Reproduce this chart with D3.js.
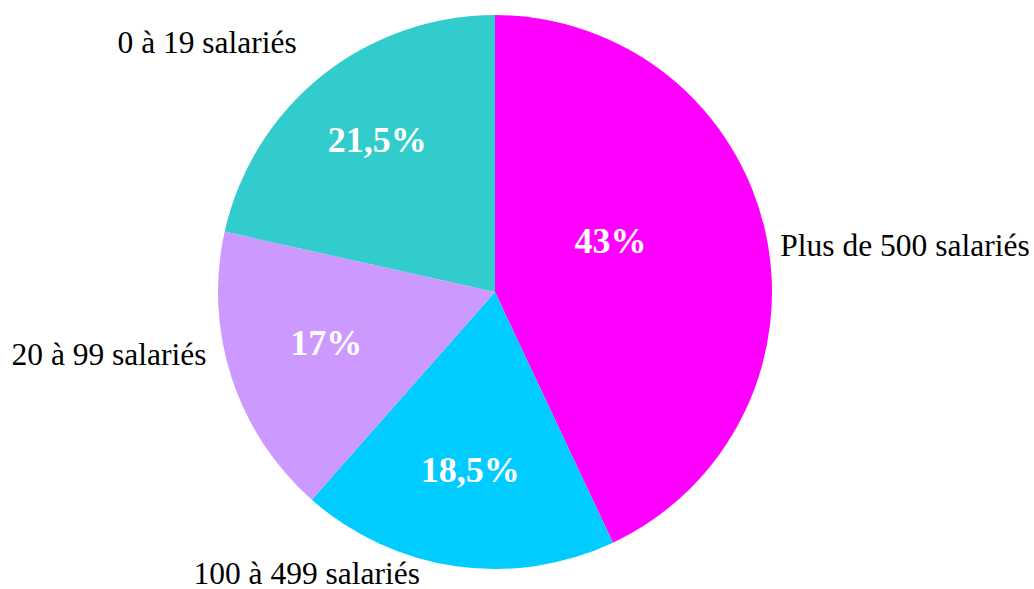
<!DOCTYPE html>
<html>
<head>
<meta charset="utf-8">
<script src="https://cdn.jsdelivr.net/npm/d3@7"></script>
<style>
  body { margin: 0; background: #fff; }
  text { font-family: "Liberation Serif", "Times New Roman", serif; }
</style>
</head>
<body>
<script>
var width = 1034, height = 589;
var cx = 495, cy = 292, radius = 277;

// data
var categories = ["Plus de 500 salariés", "100 à 499 salariés", "20 à 99 salariés", "0 à 19 salariés"];
var shares = [43, 18.5, 17, 21.5];
var shareLabels = ["43%", "18,5%", "17%", "21,5%"];
var colors = ["#ff00ff", "#00ccff", "#cc99ff", "#33cccc"];

// label tweaks (outer name: offset from edge point, anchor; inner: centroid radius + nudge)
var outerNudge = [[15, 24, "start"], [-36, 18, "end"], [-25, -13, "end"], [-25, -23, "end"]];
var innerNudge = [[-70, -10], [2, -10], [12, -8], [1, -4]];

var svg = d3.select("body")
            .append("svg")
            .attr("width", width)
            .attr("height", height)

var pie = d3.pie().sort(null).value(function(d){ return d; });
var arcs = pie(shares);

var arc = d3.arc().innerRadius(0).outerRadius(radius);
var labelArc = d3.arc().innerRadius(190).outerRadius(190);
var edgeArc = d3.arc().innerRadius(radius).outerRadius(radius);

var g = svg.append("g").attr("transform", "translate(" + cx + "," + cy + ")");

g.selectAll("path")
  .data(arcs)
  .enter().append("path")
  .attr("d", arc)
  .attr("fill", function(d, i){ return colors[i]; });

g.selectAll("text.pct")
  .data(arcs)
  .enter().append("text")
  .attr("class", "pct")
  .attr("x", function(d, i){ return labelArc.centroid(d)[0] + innerNudge[i][0]; })
  .attr("y", function(d, i){ return labelArc.centroid(d)[1] + innerNudge[i][1]; })
  .attr("dy", "0.34em")
  .attr("text-anchor", "middle")
  .attr("fill", "#fff")
  .attr("font-weight", "bold")
  .attr("font-size", "36px")
  .text(function(d, i){ return shareLabels[i]; });

g.selectAll("text.cat")
  .data(arcs)
  .enter().append("text")
  .attr("class", "cat")
  .attr("x", function(d, i){ return edgeArc.centroid(d)[0] + outerNudge[i][0]; })
  .attr("y", function(d, i){ return edgeArc.centroid(d)[1] + outerNudge[i][1]; })
  .attr("text-anchor", function(d, i){ return outerNudge[i][2]; })
  .attr("fill", "#000")
  .attr("font-size", "31.5px")
  .text(function(d, i){ return categories[i]; });
</script>
</body>
</html>
